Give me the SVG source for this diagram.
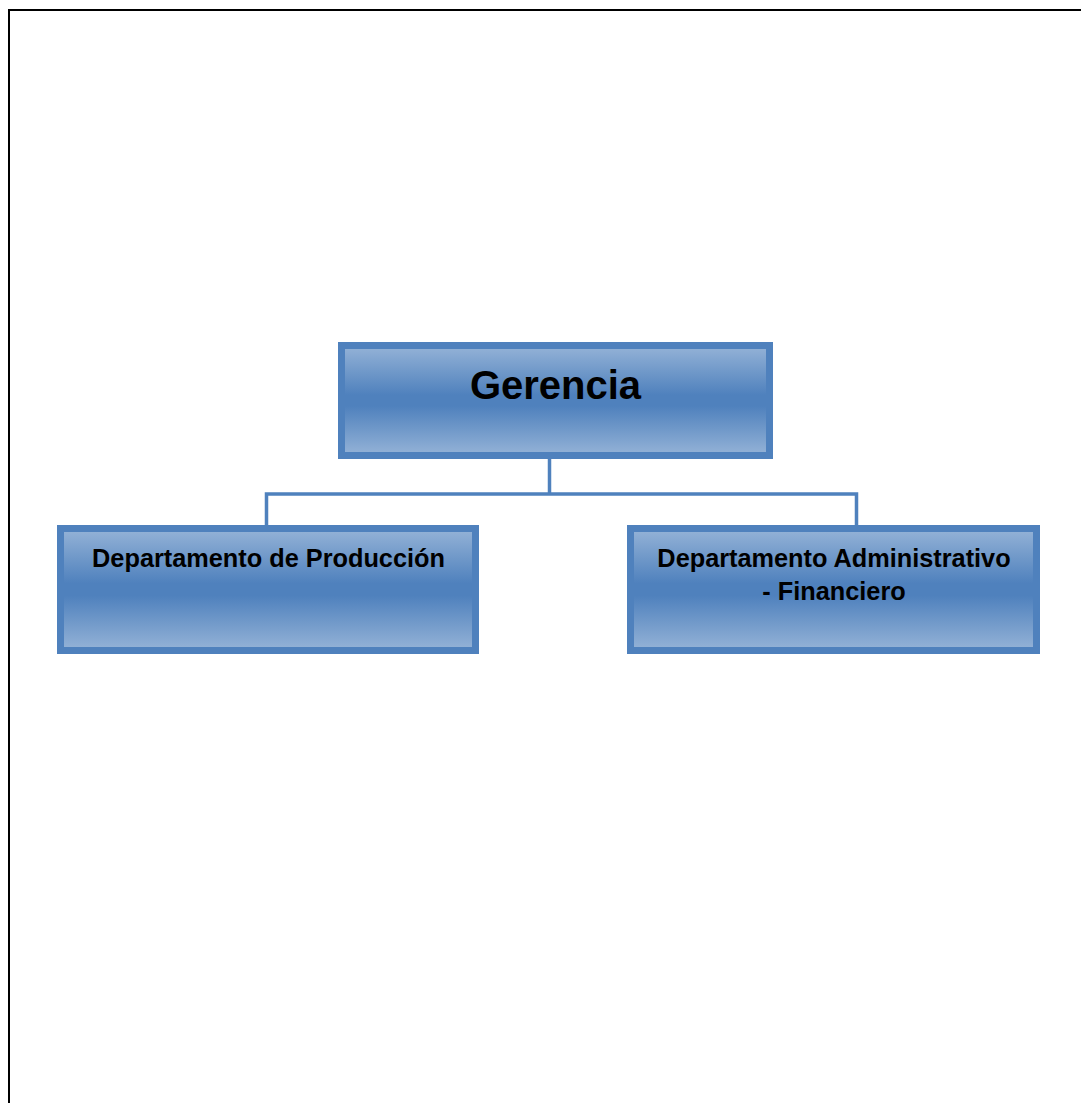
<svg xmlns="http://www.w3.org/2000/svg" width="1081" height="1103" viewBox="0 0 1081 1103">
  <defs>
    <linearGradient id="boxFill" x1="0" y1="0" x2="0" y2="1">
      <stop offset="0" stop-color="#95b3d7"/>
      <stop offset="0.45" stop-color="#4f81bd"/>
      <stop offset="0.55" stop-color="#4f81bd"/>
      <stop offset="1" stop-color="#95b3d7"/>
    </linearGradient>
    <style>
      .box { fill: url(#boxFill); stroke: #4f81bd; stroke-width: 7; }
      .label { font-family: "Liberation Sans", Arial, sans-serif; font-weight: bold; fill: #000; text-anchor: middle; }
      .link { fill: none; stroke: #4f81bd; stroke-width: 3.5; }
    </style>
  </defs>
  <rect width="1081" height="1103" fill="#fff"/>
  <!-- page frame -->
  <path d="M9 1103 V10 H1081" fill="none" stroke="#000" stroke-width="2"/>

  <g id="connectors">
    <path class="link" d="M549.5 459 V494"/>
    <path class="link" d="M266.5 525 V494 H856.5 V525"/>
  </g>

  <g id="gerencia">
    <rect class="box" x="341.5" y="345.5" width="428" height="110"/>
    <text class="label" x="555.5" y="399" font-size="40">Gerencia</text>
  </g>

  <g id="produccion">
    <rect class="box" x="60.5" y="528.5" width="415" height="122"/>
    <text class="label" x="268.5" y="567" font-size="25.3">Departamento de Producción</text>
  </g>

  <g id="administrativo">
    <rect class="box" x="630.5" y="528.5" width="406" height="122"/>
    <text class="label" x="834" y="567" font-size="25.3">Departamento Administrativo</text>
    <text class="label" x="834" y="600" font-size="25.3">- Financiero</text>
  </g>
</svg>
